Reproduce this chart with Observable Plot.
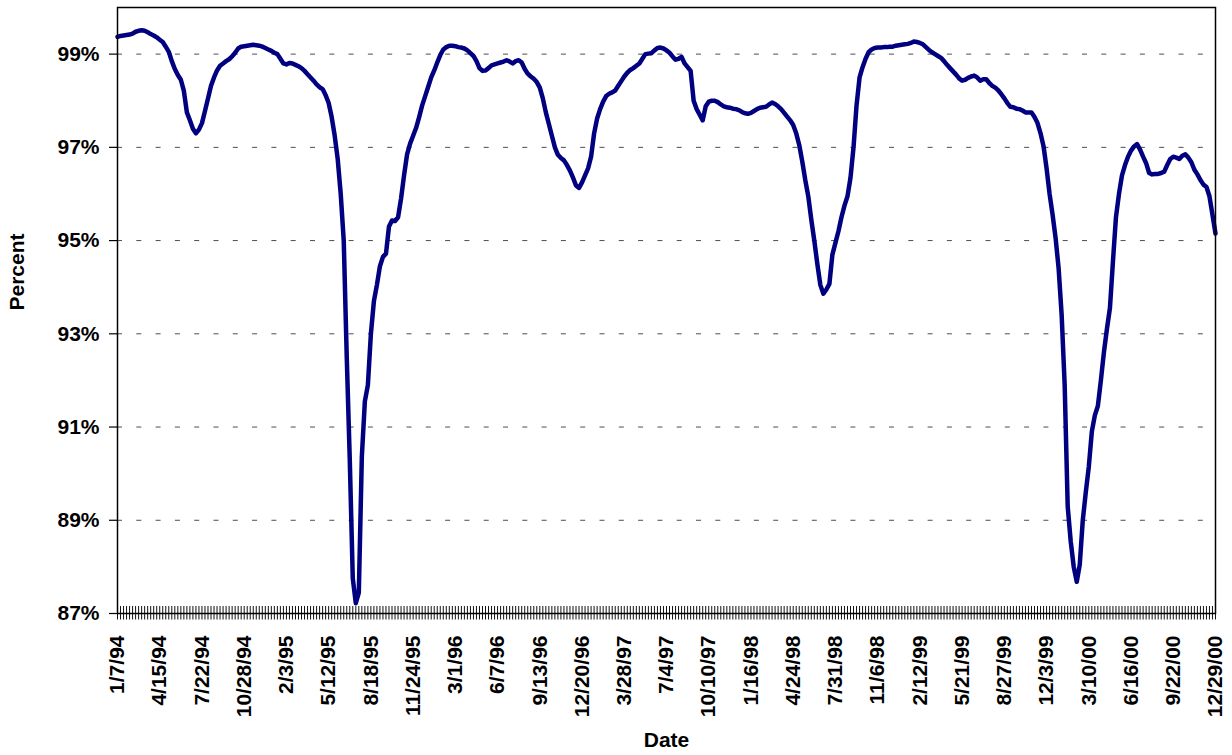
<!DOCTYPE html>
<html>
<head>
<meta charset="utf-8">
<script src="https://cdn.jsdelivr.net/npm/d3@7"></script>
<script src="https://cdn.jsdelivr.net/npm/@observablehq/plot@0.6"></script>
<style>
  html, body { margin: 0; padding: 0; background: #fff; overflow: hidden; }
  #chart svg { display: block; }
</style>
</head>
<body>
<div id="chart"></div>
<script>
// Weekly series, first week ending Friday 1/7/94
const firstWeek = "1/7/94";
const percentValues = [
  99.37, 99.39, 99.40, 99.41, 99.42, 99.44, 99.48, 99.50, 99.51, 99.50,
  99.47, 99.43, 99.40, 99.36, 99.31, 99.26, 99.16, 99.05, 98.85, 98.68,
  98.55, 98.45, 98.21, 97.75, 97.58, 97.40, 97.30, 97.38, 97.52, 97.78,
  98.05, 98.32, 98.50, 98.65, 98.75, 98.80, 98.85, 98.89, 98.95, 99.03,
  99.12, 99.16, 99.17, 99.18, 99.19, 99.20, 99.19, 99.18, 99.16, 99.13,
  99.10, 99.07, 99.03, 99.00, 98.90, 98.80, 98.78, 98.81, 98.80, 98.77,
  98.74, 98.70, 98.64, 98.57, 98.50, 98.43, 98.35, 98.29, 98.25, 98.12,
  97.95, 97.65, 97.25, 96.75, 96.00, 95.00, 92.50, 90.30, 87.75, 87.22,
  87.45, 90.36, 91.55, 91.90, 93.00, 93.70, 94.05, 94.45, 94.65, 94.72,
  95.30, 95.43, 95.42, 95.50, 95.90, 96.40, 96.85, 97.08, 97.25, 97.42,
  97.65, 97.90, 98.10, 98.30, 98.50, 98.65, 98.82, 98.98, 99.10, 99.15,
  99.18, 99.18, 99.17, 99.15, 99.14, 99.12, 99.08, 99.02, 98.96, 98.85,
  98.70, 98.64, 98.65, 98.70, 98.76, 98.78, 98.80, 98.82, 98.84, 98.87,
  98.84, 98.80, 98.85, 98.87, 98.82, 98.68, 98.58, 98.52, 98.47, 98.40,
  98.28, 98.05, 97.75, 97.50, 97.25, 97.00, 96.84, 96.77, 96.72, 96.62,
  96.50, 96.35, 96.18, 96.13, 96.25, 96.40, 96.55, 96.80, 97.30, 97.62,
  97.82, 97.98, 98.10, 98.15, 98.18, 98.22, 98.32, 98.42, 98.52, 98.60,
  98.66, 98.70, 98.75, 98.80, 98.90, 99.00, 99.01, 99.02, 99.08, 99.13,
  99.14, 99.12, 99.08, 99.03, 98.95, 98.88, 98.90, 98.94, 98.80, 98.72,
  98.64, 98.00, 97.82, 97.70, 97.58, 97.88, 97.98, 98.00, 98.00, 97.97,
  97.92, 97.88, 97.86, 97.85, 97.83, 97.82, 97.80, 97.76, 97.73, 97.72,
  97.74, 97.78, 97.82, 97.85, 97.86, 97.87, 97.92, 97.96, 97.93, 97.88,
  97.82, 97.74, 97.66, 97.58, 97.48, 97.30, 97.05, 96.70, 96.30, 95.95,
  95.45, 95.00, 94.50, 94.05, 93.86, 93.95, 94.07, 94.70, 94.95, 95.20,
  95.50, 95.75, 95.95, 96.35, 97.00, 97.90, 98.50, 98.72, 98.90, 99.04,
  99.10, 99.13, 99.14, 99.14, 99.15, 99.15, 99.16, 99.16, 99.18, 99.19,
  99.20, 99.21, 99.22, 99.24, 99.27, 99.26, 99.24, 99.21, 99.15, 99.09,
  99.04, 99.00, 98.96, 98.92, 98.85, 98.77, 98.70, 98.63, 98.56, 98.48,
  98.43, 98.45, 98.49, 98.52, 98.54, 98.50, 98.43, 98.46, 98.46, 98.38,
  98.32, 98.28, 98.22, 98.14, 98.05, 97.95, 97.87, 97.86, 97.83, 97.82,
  97.79, 97.75, 97.75, 97.75, 97.65, 97.52, 97.30, 97.02, 96.55, 96.00,
  95.55, 95.05, 94.40, 93.40, 91.90, 89.30, 88.55, 88.00, 87.68, 88.05,
  89.00, 89.60, 90.15, 90.90, 91.25, 91.45, 92.00, 92.60, 93.10, 93.55,
  94.55, 95.50, 96.00, 96.40, 96.62, 96.80, 96.93, 97.02, 97.07, 96.95,
  96.80, 96.66, 96.45, 96.42, 96.43, 96.43, 96.45, 96.48, 96.62, 96.75,
  96.80, 96.78, 96.75, 96.82, 96.85, 96.78, 96.68, 96.52, 96.42, 96.30,
  96.20, 96.15, 95.95, 95.55, 95.15
];
const yTicks = [87, 89, 91, 93, 95, 97, 99];
const tickLabels = [
  "1/7/94", "4/15/94", "7/22/94", "10/28/94", "2/3/95", "5/12/95", "8/18/95",
  "11/24/95", "3/1/96", "6/7/96", "9/13/96", "12/20/96", "3/28/97", "7/4/97",
  "10/10/97", "1/16/98", "4/24/98", "7/31/98", "11/6/98", "2/12/99", "5/21/99",
  "8/27/99", "12/3/99", "3/10/00", "6/16/00", "9/22/00", "12/29/00"
];
const xTitle = "Date";
const yTitle = "Percent";

const parse = d3.timeParse("%m/%d/%y");
const start = parse(firstWeek);
const data = percentValues.map((v, i) => ({date: d3.timeDay.offset(start, 7 * i), value: v}));
const weeks = data.map(d => d.date);
const labelDates = tickLabels.map(parse);
const labelByTime = new Map(labelDates.map((d, i) => [+d, tickLabels[i]]));

const font = '"Liberation Sans", Arial, Helvetica, sans-serif';

const chart = Plot.plot({
  width: 1232,
  height: 755,
  marginLeft: 117,
  marginRight: 17,
  marginTop: 7,
  marginBottom: 142,
  style: {fontFamily: font, fontSize: "21px", fontWeight: "bold", color: "#000", background: "#fff", overflow: "visible"},
  x: {type: "time", domain: [weeks[0], weeks[weeks.length - 1]]},
  y: {domain: [87, 100]},
  marks: [
    Plot.ruleY(yTicks.slice(1), {stroke: "#4d4d4d", strokeWidth: 1, strokeDasharray: "5,14.3"}),
    Plot.ruleX(weeks, {y1: 86.86, y2: 87.15, stroke: "#111", strokeWidth: 1}),
    Plot.axisY(yTicks, {tickSize: 8, tickPadding: 10, tickFormat: d => d + "%", label: null, stroke: "#000", strokeWidth: 1.2}),
    Plot.axisX(labelDates, {tickSize: 0, tickRotate: -90, tickPadding: 22, tickFormat: d => labelByTime.get(+d), label: null}),
    Plot.line(data, {x: "date", y: "value", stroke: "#000080", strokeWidth: 4.5, strokeLinejoin: "round", strokeLinecap: "round"}),
    Plot.frame({stroke: "#000", strokeWidth: 1.5}),
    Plot.text([yTitle], {frameAnchor: "left", dx: -100, rotate: -90, fontWeight: "bold", fontSize: 21}),
    Plot.text([xTitle], {frameAnchor: "bottom", dy: 133, fontWeight: "bold", fontSize: 21})
  ]
});
document.getElementById("chart").append(chart);
</script>
</body>
</html>
